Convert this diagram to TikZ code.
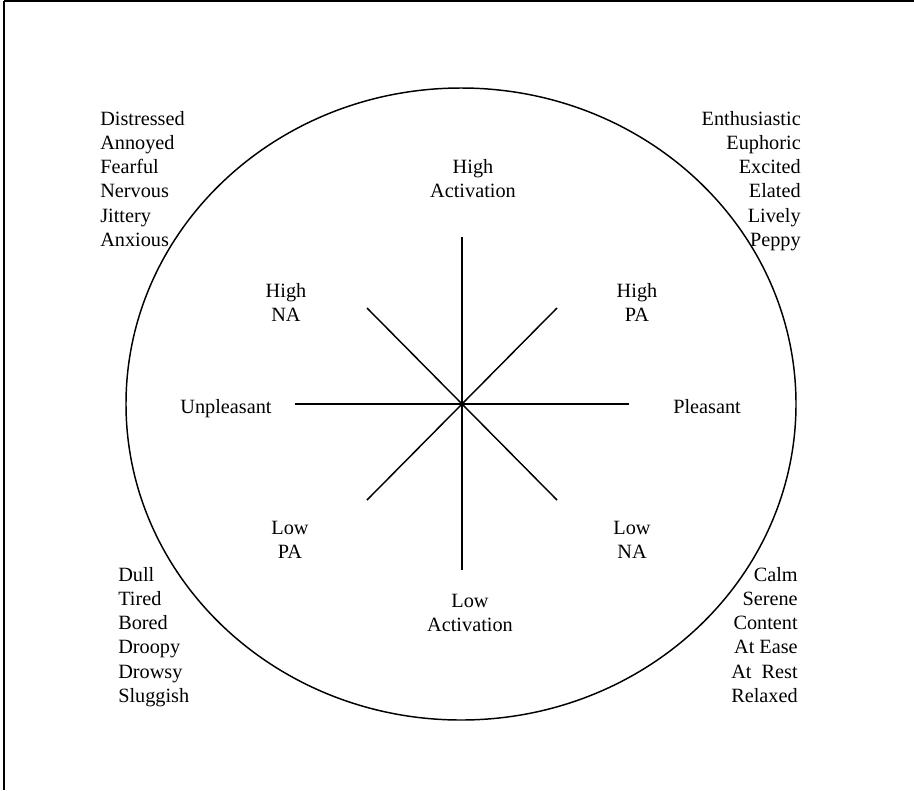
\documentclass[tikz,border=0pt]{standalone}
\usepackage{fontspec}
\setmainfont{Liberation Serif}
\begin{document}
\begin{tikzpicture}[x=0.75pt,y=-0.75pt,
  lbl/.style={inner sep=0pt,font=\fontsize{15.2}{18}\selectfont},
  frameline/.style={line width=1.2pt},
  spoke/.style={line width=1.1pt},
  oval/.style={line width=1.1pt}]
\useasboundingbox (0,0) rectangle (914,790);
% frame (top and left edges visible)
\draw[frameline] (4,1) -- (914,1);
\draw[frameline] (4,1) -- (4,790);
% ellipse
\coordinate (c) at (462,404);
\draw[oval] (461,404) ellipse [x radius=335, y radius=316];
% spoke end points
\coordinate (n) at (462,237);
\coordinate (s) at (462,570);
\coordinate (w) at (295,404);
\coordinate (e) at (629,404);
\coordinate (nw) at (367,308);
\coordinate (ne) at (557,308);
\coordinate (sw) at (367,500);
\coordinate (se) at (557,500);
\foreach \p in {n,s,w,e,nw,ne,sw,se} \draw[spoke] (\p) -- (c);
% axis labels
\node[lbl,anchor=base] (ha1) at (473,173) {High};
\node[lbl,anchor=base] (ha2) at (473,197) {Activation};
\node[lbl,anchor=base] (hn1) at (286,297) {High};
\node[lbl,anchor=base] (hn2) at (286,321) {NA};
\node[lbl,anchor=base] (hp1) at (637,297) {High};
\node[lbl,anchor=base] (hp2) at (637,321) {PA};
\node[lbl,anchor=base] (un) at (226,413) {Unpleasant};
\node[lbl,anchor=base west] (pl) at (673,413) {Pleasant};
\node[lbl,anchor=base] (lp1) at (290,534) {Low};
\node[lbl,anchor=base] (lp2) at (290,558) {PA};
\node[lbl,anchor=base] (ln1) at (632,534) {Low};
\node[lbl,anchor=base] (ln2) at (632,558) {NA};
\node[lbl,anchor=base] (la1) at (470,607) {Low};
\node[lbl,anchor=base] (la2) at (470,631) {Activation};
% word lists
\foreach \t [count=\i from 0] in {Distressed,Annoyed,Fearful,Nervous,Jittery,Anxious}
  \node[lbl,anchor=base west] (tl\i) at (100,125+24.3*\i) {\t};
\foreach \t [count=\i from 0] in {Enthusiastic,Euphoric,Excited,Elated,Lively,Peppy}
  \node[lbl,anchor=base east] (tr\i) at (801,125+24.3*\i) {\t};
\foreach \t [count=\i from 0] in {Dull,Tired,Bored,Droopy,Drowsy,Sluggish}
  \node[lbl,anchor=base west] (bl\i) at (118,581+24.3*\i) {\t};
\foreach \t [count=\i from 0] in {Calm,Serene,Content,At Ease,At\ \ Rest,Relaxed}
  \node[lbl,anchor=base east] (br\i) at (798,581+24.3*\i) {\t};
\end{tikzpicture}
\end{document}
